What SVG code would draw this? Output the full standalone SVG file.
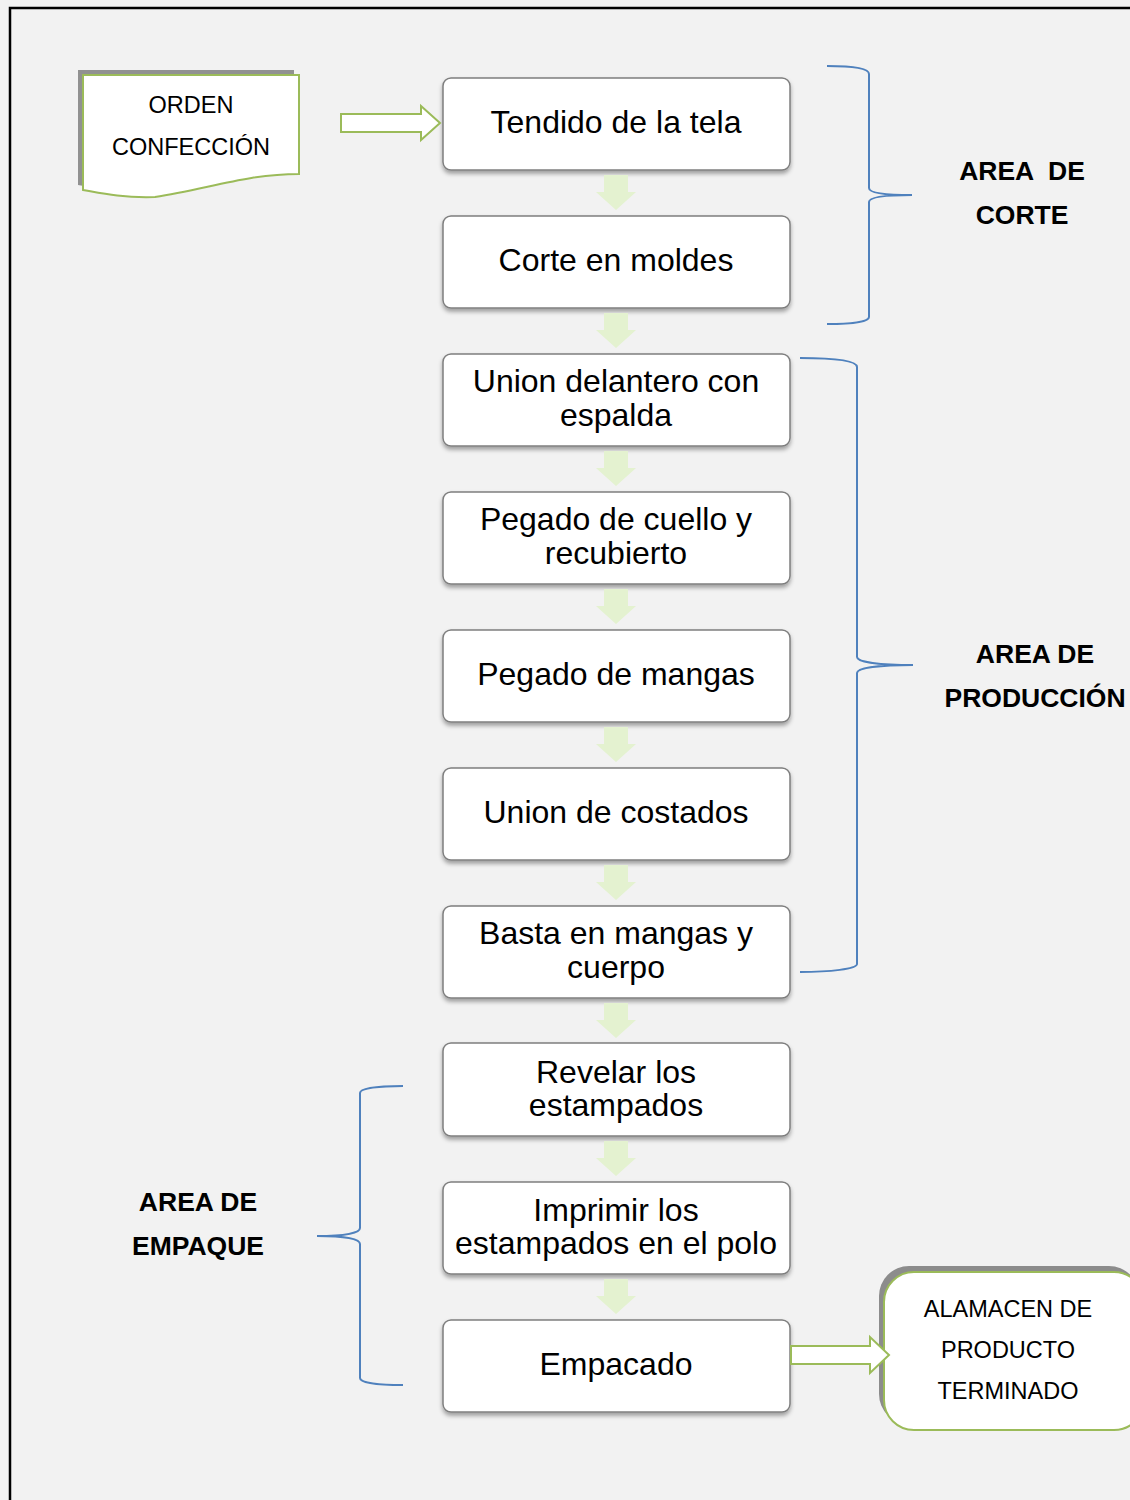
<svg xmlns="http://www.w3.org/2000/svg" width="1130" height="1500" viewBox="0 0 1130 1500">
<style>
.box{fill:#fff;stroke:#7f7f7f;stroke-width:1.5;filter:url(#sh)}
.bt{font-family:"Liberation Sans",Arial,sans-serif;font-size:32px;fill:#000;text-anchor:middle}
.ct{font-family:"Liberation Sans",Arial,sans-serif;font-size:23.5px;fill:#000;text-anchor:middle}
.lb{font-family:"Liberation Sans",Arial,sans-serif;font-size:26.5px;font-weight:bold;fill:#000;text-anchor:middle;white-space:pre}
.br{fill:none;stroke:#4f81bd;stroke-width:2}
.dn{fill:#e4f2d0}
.ra{fill:#fff;stroke:#9bbb59;stroke-width:2}
</style>
<defs>
<filter id="sh" x="-10%" y="-10%" width="120%" height="130%">
<feDropShadow dx="0" dy="3" stdDeviation="2" flood-color="#000" flood-opacity="0.35"/>
</filter>
</defs>
<rect x="0" y="0" width="1130" height="1500" fill="#f2f2f2"/>
<path d="M10,1500 V8 H1130" fill="none" stroke="#000" stroke-width="2.5"/>

<g id="orden">
<path d="M78,70 H294 V169 C240,169 200,185 150,192 C115,193 95,188 78,185 Z" fill="#919191"/>
<path d="M83,75 H299 V174 C245,174 205,190 155,197 C120,198 100,193 83,190 Z" fill="#fff" stroke="#9bbb59" stroke-width="2"/>
<text class="ct" x="191" y="113">ORDEN</text>
<text class="ct" x="191" y="155">CONFECCIÓN</text>
</g>

<g id="n1"><rect class="box" x="443" y="78" width="347" height="92" rx="8"/><text class="bt" x="616" y="133">Tendido de la tela</text></g>
<g id="n2"><rect class="box" x="443" y="216" width="347" height="92" rx="8"/><text class="bt" x="616" y="271">Corte en moldes</text></g>
<g id="n3"><rect class="box" x="443" y="354" width="347" height="92" rx="8"/><text class="bt" x="616" y="392">Union delantero con</text><text class="bt" x="616" y="426">espalda</text></g>
<g id="n4"><rect class="box" x="443" y="492" width="347" height="92" rx="8"/><text class="bt" x="616" y="530">Pegado de cuello y</text><text class="bt" x="616" y="564">recubierto</text></g>
<g id="n5"><rect class="box" x="443" y="630" width="347" height="92" rx="8"/><text class="bt" x="616" y="685">Pegado de mangas</text></g>
<g id="n6"><rect class="box" x="443" y="768" width="347" height="92" rx="8"/><text class="bt" x="616" y="823">Union de costados</text></g>
<g id="n7"><rect class="box" x="443" y="906" width="347" height="92" rx="8"/><text class="bt" x="616" y="944">Basta en mangas y</text><text class="bt" x="616" y="978">cuerpo</text></g>
<g id="n8"><rect class="box" x="443" y="1043" width="347" height="93" rx="8"/><text class="bt" x="616" y="1083">Revelar los</text><text class="bt" x="616" y="1116">estampados</text></g>
<g id="n9"><rect class="box" x="443" y="1182" width="347" height="92" rx="8"/><text class="bt" x="616" y="1221">Imprimir los</text><text class="bt" x="616" y="1254">estampados en el polo</text></g>
<g id="n10"><rect class="box" x="443" y="1320" width="347" height="92" rx="8"/><text class="bt" x="616" y="1375">Empacado</text></g>

<g id="almacen">
<rect x="879" y="1266" width="260" height="158" rx="30" fill="#8c8c8c"/>
<rect x="884" y="1272" width="260" height="158" rx="30" fill="#fff" stroke="#9bbb59" stroke-width="2"/>
<text class="ct" x="1008" y="1317">ALAMACEN DE</text>
<text class="ct" x="1008" y="1358">PRODUCTO</text>
<text class="ct" x="1008" y="1399">TERMINADO</text>
</g>

<g id="brace-corte">
<path class="br" d="M827,66 C850,66 869,68 869,74 V188 C869,193 885,195 912,195 C885,195 869,197 869,202 V317 C869,322 850,324 827,324"/>
<text class="lb" x="1022" y="180" xml:space="preserve">AREA  DE</text>
<text class="lb" x="1022" y="224">CORTE</text>
</g>
<g id="brace-produccion">
<path class="br" d="M800,358 C830,358 857,360 857,367 V657 C857,662 880,665 913,665 C880,665 857,668 857,673 V964 C857,969 830,972 800,972"/>
<text class="lb" x="1035" y="663">AREA DE</text>
<text class="lb" x="1035" y="707">PRODUCCIÓN</text>
</g>
<g id="brace-empaque">
<path class="br" d="M403,1086 C380,1086 360,1088 360,1093 V1228 C360,1233 345,1236 317,1236 C345,1236 360,1239 360,1244 V1378 C360,1383 380,1385 403,1385"/>
<text class="lb" x="198" y="1211">AREA DE</text>
<text class="lb" x="198" y="1255">EMPAQUE</text>
</g>

<g id="connectors">
<path class="dn" d="M604,175 H628 V192 H636 L616,210 L596,192 H604 Z"/>
<path class="dn" d="M604,313 H628 V330 H636 L616,348 L596,330 H604 Z"/>
<path class="dn" d="M604,451 H628 V468 H636 L616,486 L596,468 H604 Z"/>
<path class="dn" d="M604,589 H628 V606 H636 L616,624 L596,606 H604 Z"/>
<path class="dn" d="M604,727 H628 V744 H636 L616,762 L596,744 H604 Z"/>
<path class="dn" d="M604,865 H628 V882 H636 L616,900 L596,882 H604 Z"/>
<path class="dn" d="M604,1003 H628 V1020 H636 L616,1038 L596,1020 H604 Z"/>
<path class="dn" d="M604,1141 H628 V1158 H636 L616,1176 L596,1158 H604 Z"/>
<path class="dn" d="M604,1279 H628 V1296 H636 L616,1314 L596,1296 H604 Z"/>
<path class="ra" d="M341,114 H421 V106 L440,123 L421,140 V132 H341 Z"/>
<path class="ra" d="M791,1346 H870 V1337 L889,1355 L870,1373 V1364 H791 Z"/>
</g>
</svg>
